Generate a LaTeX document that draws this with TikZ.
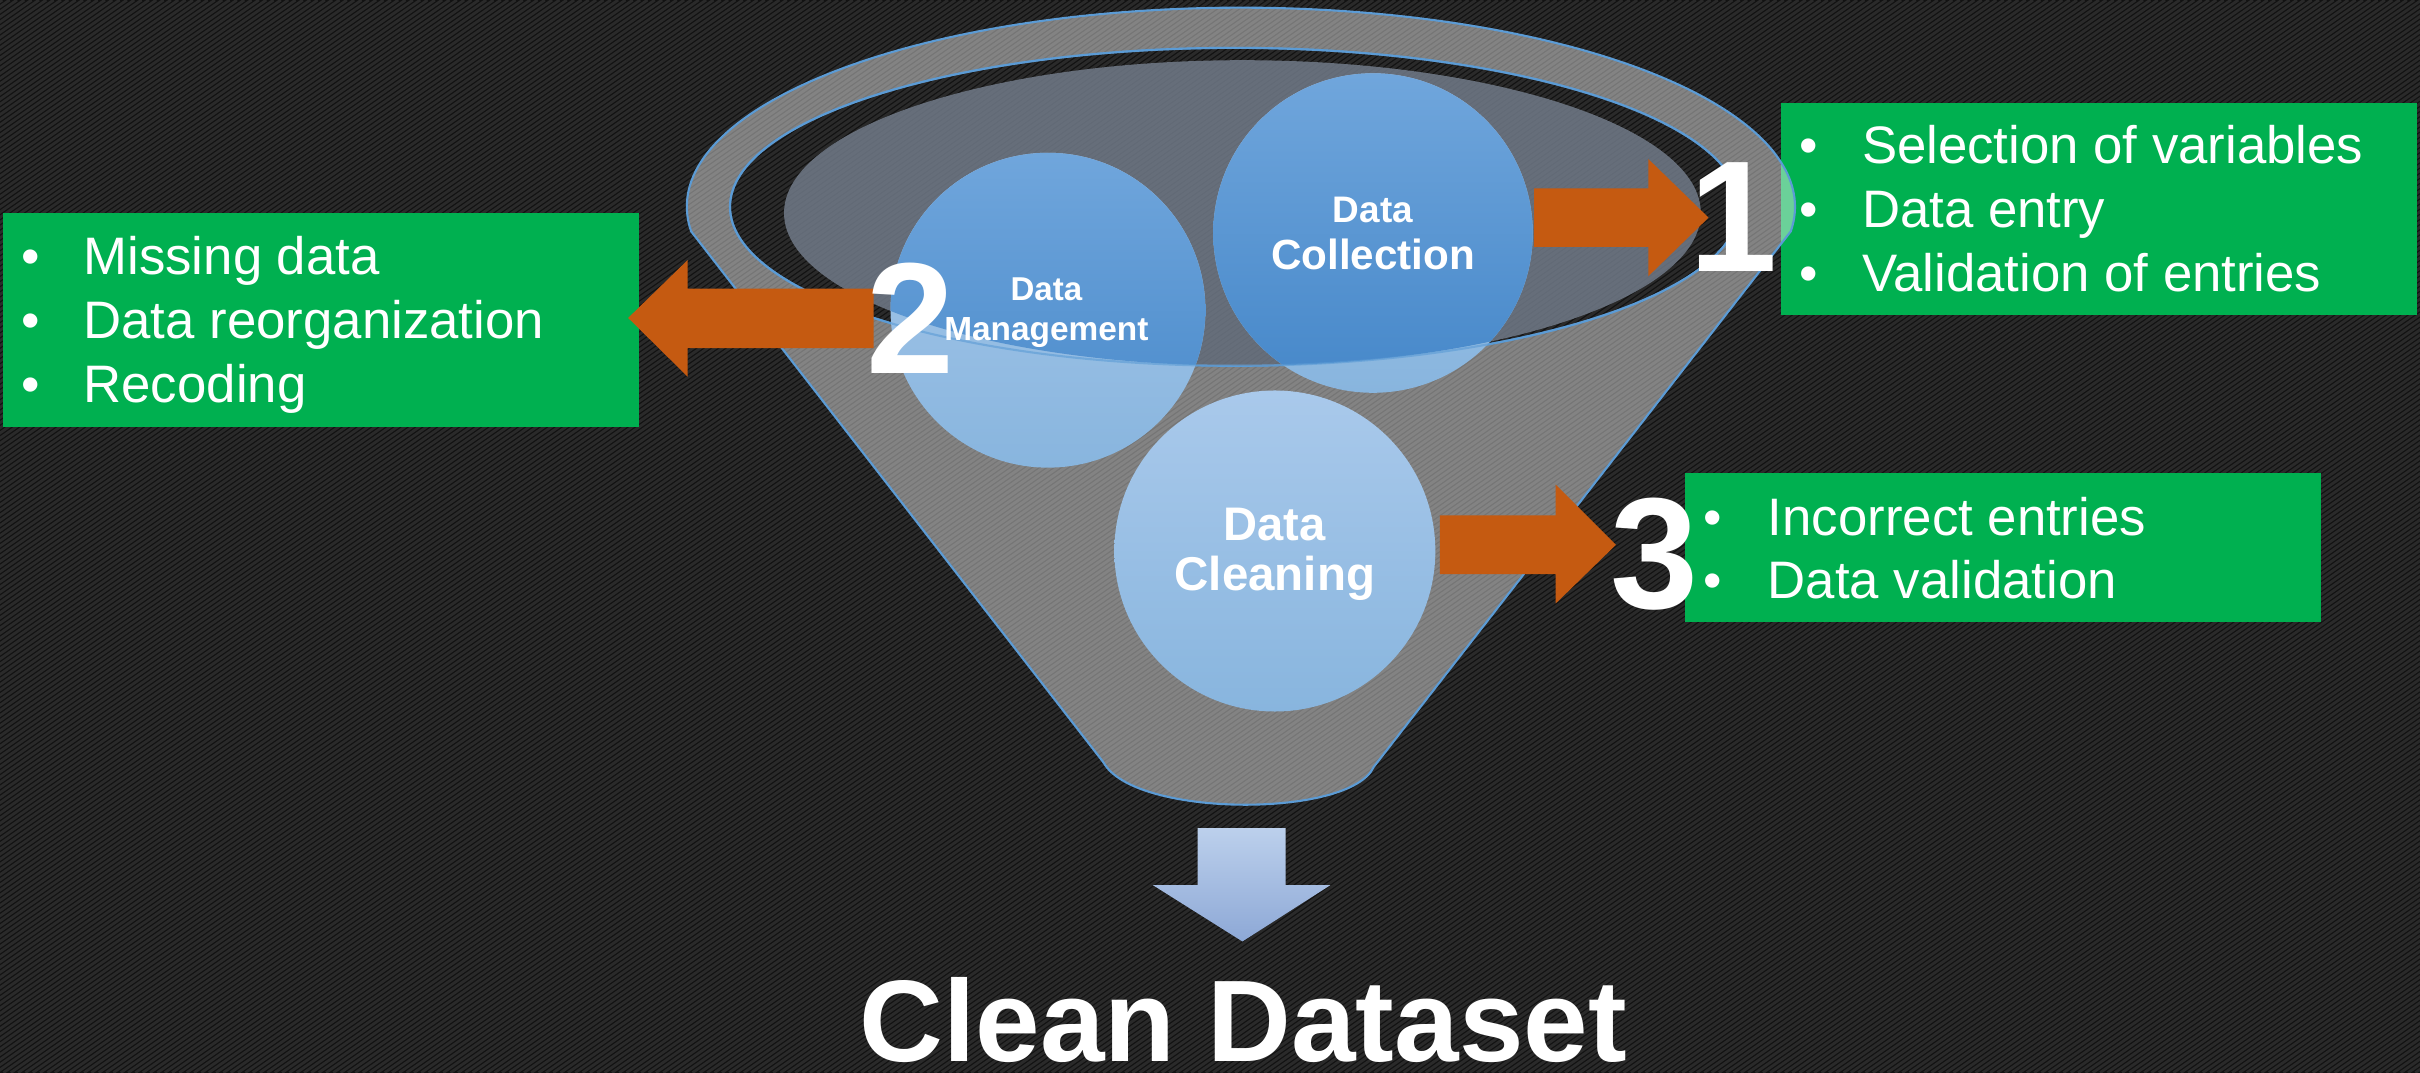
\documentclass[tikz,border=0pt]{standalone}
\usepackage{fontspec}
\setmainfont{Liberation Sans}
\usetikzlibrary{fit}
\definecolor{bgc}{HTML}{121212}
\definecolor{stripec}{HTML}{2A2A2A}
\definecolor{rimblue}{HTML}{5B9BD5}
\definecolor{surfc}{HTML}{76808F}
\definecolor{lbtop}{HTML}{A9C9EB}
\definecolor{lbbot}{HTML}{88B5DE}
\definecolor{sbtop}{HTML}{70A6DC}
\definecolor{sbbot}{HTML}{4587C9}
\definecolor{boxgreen}{HTML}{00B050}
\definecolor{arroworange}{HTML}{C55A11}
\definecolor{datop}{HTML}{BCD0EC}
\definecolor{dabot}{HTML}{8DA8D6}
\begin{document}
\begin{tikzpicture}[x=0.015434cm,y=-0.015434cm,
  greenbox/.style={fill=boxgreen,draw=none,inner sep=0pt,outer sep=0pt},
  itemtext/.style={text=white,font=\fontsize{15}{18}\selectfont,anchor=base west,inner sep=0pt},
  bulletmark/.style={text=white,font=\fontsize{15}{18}\selectfont,anchor=base,inner sep=0pt},
  bignum/.style={text=white,font=\fontsize{45}{50}\selectfont\bfseries,anchor=base,inner sep=0pt},
  clabel/.style={text=white,anchor=base,inner sep=0pt},
  blockarrow/.style={fill=arroworange,draw=none},
  rim/.style={draw=rimblue,line width=0.6pt},
]
% background
\fill[bgc] (0,0) rectangle (1568,695);
\begin{scope}
  \clip (0,0) rectangle (1568,695);
  \foreach \s in {-1000,-995.25,...,1570}
    \draw[stripec,line width=0.8pt] (\s,695) -- ++(992,-695);
\end{scope}
\useasboundingbox (0,0) rectangle (1568,695);

% green boxes
\node[greenbox,fit={(1154,67) (1566,204)}] (box1) {};
\node[greenbox,fit={(2,138) (414,276.5)}] (box2) {};
\node[greenbox,fit={(1092,306.5) (1504,403)}] (box3) {};

\foreach \t/\b [count=\i] in {Selection of variables/106, Data entry/147.6, Validation of entries/188.7}{
  \node[bulletmark] (bA\i) at (1172,\b) {\textbullet};
  \node[itemtext] (tA\i) at (1206,\b) {\t};
}
\foreach \t/\b [count=\i] in {Missing data/178, Data reorganization/219, Recoding/260.5}{
  \node[bulletmark] (bB\i) at (19.8,\b) {\textbullet};
  \node[itemtext] (tB\i) at (53.7,\b) {\t};
}
\foreach \t/\b [count=\i] in {Incorrect entries/346.7, Data validation/387.5}{
  \node[bulletmark] (bC\i) at (1110,\b) {\textbullet};
  \node[itemtext] (tC\i) at (1145,\b) {\t};
}

% funnel (with open mouth)
\path[fill=white,fill opacity=0.42,rim,even odd rule]
  (447.8,149.9) arc[start angle=172.9,end angle=367.1,x radius=359,y radius=129]
  -- (890,497) .. controls (875,530) and (735,530) .. (715,494) -- cycle
  (800,134) ellipse[x radius=327,y radius=103];
\path[fill=surfc,fill opacity=0.8] (805,138) ellipse[x radius=297,y radius=99];

% circles
\coordinate (cmgmt) at (679,201);
\coordinate (ccoll) at (889.6,151);
\coordinate (cclean) at (826,357);
\path[top color=lbtop,bottom color=lbbot] (cmgmt) circle[radius=102];
\path[top color=lbtop,bottom color=lbbot] (ccoll) circle[radius=103.5];
\path[top color=lbtop,bottom color=lbbot] (cclean) circle[radius=104];
\begin{scope}
  \clip (805,138) ellipse[x radius=297,y radius=99];
  \path[top color=sbtop,bottom color=sbbot] (cmgmt) circle[radius=102];
  \path[top color=sbtop,bottom color=sbbot] (ccoll) circle[radius=103.5];
\end{scope}
\path[rim,draw opacity=0.6] (800,134) ellipse[x radius=327,y radius=103];

% circle labels
\node[clabel,font=\fontsize{10.5}{12}\selectfont\bfseries] (lcoll1) at (889.6,144.3) {Data};
\node[clabel,font=\fontsize{12}{14}\selectfont\bfseries] (lcoll2) at (889.6,174.5) {Collection};
\node[clabel,font=\fontsize{9.4}{11}\selectfont\bfseries] (lmgmt1) at (678,194.4) {Data};
\node[clabel,font=\fontsize{9.5}{11}\selectfont\bfseries] (lmgmt2) at (678,220.7) {Management};
\node[clabel,font=\fontsize{13.4}{15}\selectfont\bfseries] (lclean1) at (826,350) {Data};
\node[clabel,font=\fontsize{13.5}{15}\selectfont\bfseries] (lclean2) at (826,382.3) {Cleaning};

% block arrows
\path[blockarrow] (994,122) -- (1068,122) -- (1068,103) -- (1107,141) -- (1068,179) -- (1068,160) -- (994,160) -- cycle;
\path[blockarrow] (566,187) -- (445.5,187) -- (445.5,168.5) -- (407,206) -- (445.5,244) -- (445.5,225.5) -- (566,225.5) -- cycle;
\path[blockarrow] (933,334) -- (1008,334) -- (1008,314) -- (1047,353) -- (1008,391) -- (1008,372) -- (933,372) -- cycle;

% numbers
\node[bignum] (n1) at (1123,176) {1};
\node[bignum] (n2) at (590,242) {2};
\node[bignum] (n3) at (1072,394) {3};

% down arrow
\path[top color=datop,bottom color=dabot] (776,536.5) -- (833,536.5) -- (833,573.5) -- (862,573.5) -- (805,610) -- (747,573.5) -- (776,573.5) -- cycle;

% title
\node[text=white,font=\fontsize{33}{36}\selectfont\bfseries,anchor=base,inner sep=0pt] (title) at (805.5,688) {Clean Dataset};
\end{tikzpicture}
\end{document}
